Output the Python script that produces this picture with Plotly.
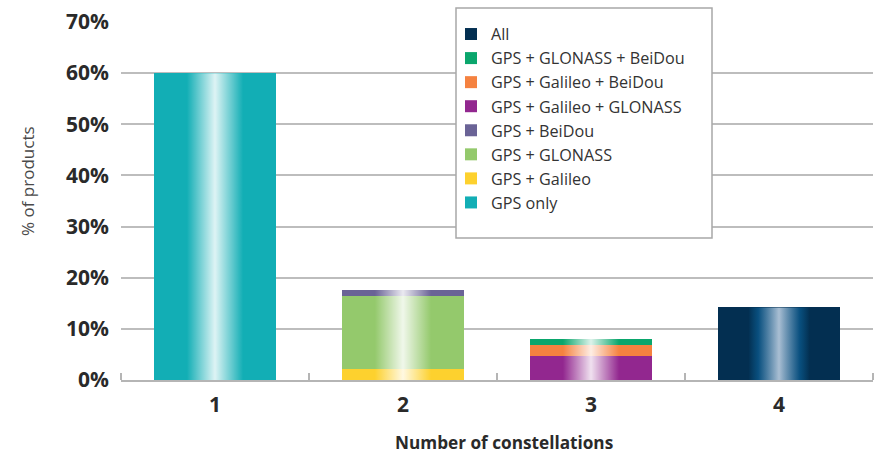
import plotly.graph_objects as go

# ---- data ----
categories = [1, 2, 3, 4]
tick_labels = ["1", "2", "3", "4"]
series_names = [
    "GPS only",
    "GPS + Galileo",
    "GPS + GLONASS",
    "GPS + BeiDou",
    "GPS + Galileo + GLONASS",
    "GPS + Galileo + BeiDou",
    "GPS + GLONASS + BeiDou",
    "All",
]
gps_only = [60.0, 0, 0, 0]
gps_galileo = [0, 2.1, 0, 0]
gps_glonass = [0, 14.3, 0, 0]
gps_beidou = [0, 1.2, 0, 0]
gps_gal_glo = [0, 0, 4.75, 0]
gps_gal_bei = [0, 0, 2.15, 0]
gps_glo_bei = [0, 0, 1.2, 0]
all_const = [0, 0, 0, 14.2]
series_values = [gps_only, gps_galileo, gps_glonass, gps_beidou,
                 gps_gal_glo, gps_gal_bei, gps_glo_bei, all_const]
y_ticks = [0, 10, 20, 30, 40, 50, 60, 70]
y_tick_labels = ["0%", "10%", "20%", "30%", "40%", "50%", "60%", "70%"]

# ---- styles ----
colors = ["#12AEB5", "#FDD12E", "#94C96C", "#6A6396",
          "#92278F", "#F58240", "#0AA66C", "#032F51"]
BAR_W = 0.65
FONT = "Open Sans"
W, H = 874, 454
ML, MR, MT, MB = 121, 1, 22, 74

fig = go.Figure()
for name, vals, col in zip(series_names, series_values, colors):
    fig.add_trace(go.Bar(
        x=categories, y=vals, name=name, width=BAR_W,
        marker=dict(color=col, line=dict(width=0)),
        hoverinfo="name+y",
    ))

# cylindrical highlight overlay on each stacked bar (computed from data)
light_scale = [[0, "rgba(255,255,255,0)"], [0.27, "rgba(255,255,255,0)"],
               [0.5, "rgba(255,255,255,0.86)"], [0.73, "rgba(255,255,255,0)"],
               [1, "rgba(255,255,255,0)"]]
dark_scale = [[0, "rgba(10,90,140,0)"], [0.25, "rgba(10,90,140,0)"],
              [0.33, "rgba(10,85,135,0.85)"], [0.5, "rgba(178,198,218,0.95)"],
              [0.67, "rgba(10,85,135,0.85)"], [0.75, "rgba(10,90,140,0)"],
              [1, "rgba(10,90,140,0)"]]
for i, c in enumerate(categories):
    total = sum(s[i] for s in series_values)
    x0, x1 = c - BAR_W / 2, c + BAR_W / 2
    scale = dark_scale if all_const[i] > 0 else light_scale
    fig.add_trace(go.Scatter(
        x=[x0, x1, x1, x0, x0], y=[0, 0, total, total, 0],
        mode="lines", fill="toself", line=dict(width=0),
        fillgradient=dict(type="horizontal", colorscale=scale, start=x0, stop=x1),
        showlegend=False, hoverinfo="skip",
    ))

pw = W - ML - MR
ph = H - MT - MB

def px_x(px):
    return (px - ML) / pw

def px_y(py):
    return (H - MB - py) / ph

fig.update_layout(
    width=W, height=H,
    margin=dict(l=ML, r=MR, t=MT, b=MB, pad=0),
    barmode="stack",
    paper_bgcolor="white", plot_bgcolor="white",
    font=dict(family=FONT, color="#333333"),
    showlegend=True,
    legend=dict(
        traceorder="reversed",
        x=px_x(451), y=px_y(17), xanchor="left", yanchor="top",
        bgcolor="rgba(0,0,0,0)", borderwidth=0,
        font=dict(family=FONT, size=16.2, color="#333333"),
        itemclick=False, itemdoubleclick=False,
    ),
    xaxis=dict(
        range=[0.5, 4.5], tickmode="array", tickvals=categories, ticktext=tick_labels,
        ticks="", showgrid=False, zeroline=False,
        showline=True, linecolor="#b5b5b5", linewidth=2,
        tickfont=dict(family=FONT, size=21, color="#2a2a2a", weight="bold"),
        ticklabelstandoff=5,
        minor=dict(tickmode="array", tickvals=[0.5, 1.5, 2.5, 3.5, 4.5],
                   ticks="inside", ticklen=7, tickwidth=1.5, tickcolor="#b5b5b5",
                   showgrid=False),
    ),
    yaxis=dict(
        range=[0, 70], tickmode="array", tickvals=y_ticks, ticktext=y_tick_labels,
        showgrid=True, gridcolor="#bdbdbd", gridwidth=1.6,
        zeroline=False, showline=False, ticks="",
        ticklabelstandoff=11,
        tickfont=dict(family=FONT, size=21, color="#2a2a2a", weight="bold"),
    ),
    shapes=[dict(
        type="rect", xref="paper", yref="paper",
        x0=px_x(456), x1=px_x(712), y0=px_y(238), y1=px_y(8),
        fillcolor="white", line=dict(color="#a8a8a8", width=1.5), layer="above",
    )],
    annotations=[
        dict(text="% of products", xref="paper", yref="paper",
             x=px_x(28), y=px_y(181), xanchor="center", yanchor="middle",
             textangle=-90, showarrow=False,
             font=dict(family=FONT, size=17, color="#4a4a4a")),
        dict(text="Number of constellations", xref="paper", yref="paper",
             x=px_x(504), y=px_y(442), xanchor="center", yanchor="middle",
             showarrow=False, borderpad=0,
             font=dict(family=FONT, size=17.2, color="#2a2a2a", weight="bold")),
    ],
)

fig.write_html("out.html",
               config={"displayModeBar": False},
               post_script="document.body.style.margin='0';document.body.style.padding='0';")
